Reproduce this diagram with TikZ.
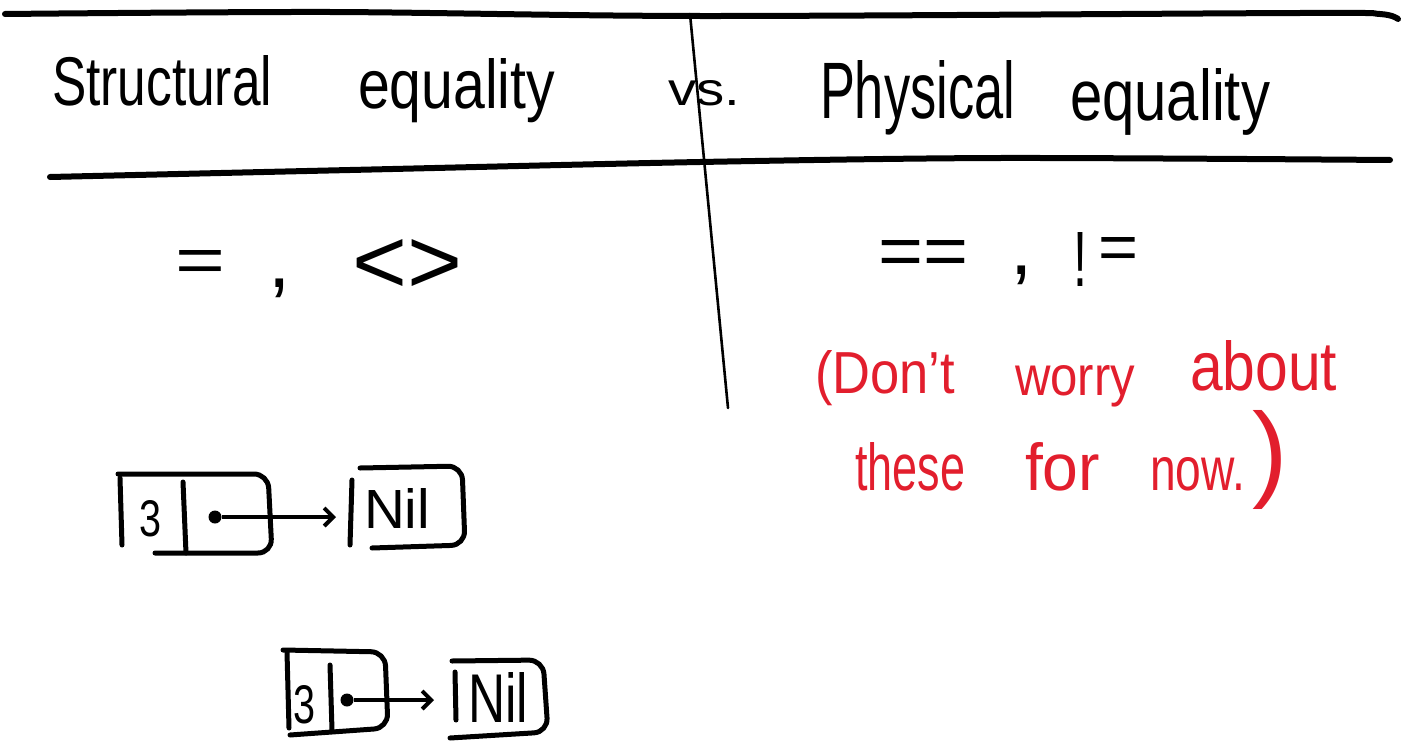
\documentclass[tikz,border=0pt]{standalone}
\usepackage{fontspec}
\setmainfont{Liberation Sans}
\usepackage{graphicx}
\usetikzlibrary{arrows.meta}
\definecolor{inkred}{RGB}{226,30,45}
\newcommand\fitbox[3]{\resizebox{#1pt}{#2pt}{#3}}
\tikzset{
  word/.style={anchor=base west, inner sep=0pt, outer sep=0pt},
  redword/.style={word, text=inkred},
  rule/.style={line width=6pt, line cap=round},
  thinrule/.style={line width=2.6pt, line cap=round},
  boxline/.style={line width=5pt, line cap=round, rounded corners=14pt},
  ptr/.style={line width=4pt, -{Straight Barb[length=9pt,width=18pt,line width=4pt]}},
  dot/.style={circle, fill, inner sep=0pt, minimum size=13pt}
}
\begin{document}
\begin{tikzpicture}[x=1pt,y=-1pt]
\useasboundingbox (0,0) rectangle (1403,744);
% header rules
\draw[rule] plot[smooth] coordinates {(5,14) (330,12) (700,16) (1300,13) (1380,14) (1398,19)};
\draw[rule] plot[smooth] coordinates {(50,177) (350,170) (700,162) (1000,158) (1390,160)};
\draw[thinrule] (690,14) -- (728,408);
% titles
\node[word] (s1) at (52,105) {\fitbox{220}{50}{Structural}};
\node[word] (s2) at (358,108) {\fitbox{197}{50}{equality}};
\node[word] (vs) at (668,105) {\fitbox{72}{25}{vs.}};
\node[word] (p1) at (820,118) {\fitbox{195}{58}{Physical}};
\node[word] (p2) at (1070,120) {\fitbox{200}{52}{equality}};
% operators
\node[word] (eq) at (175,282) {\fitbox{50}{32}{=}};
\node[inner sep=0pt] (c1) at (280,288) {\fontsize{80}{80}\selectfont ,};
\node[inner sep=0pt] (ne) at (407,266) {\fitbox{110}{54}{<>}};
\node[word] (eqeq) at (878,275) {\fitbox{90}{35}{==}};
\node[inner sep=0pt] (c2) at (1022,275) {\fontsize{80}{80}\selectfont ,};
\node[word] (bang) at (1073,286) {\fitbox{14}{54}{!}};
\node[word] (eq2) at (1098,269) {\fitbox{40}{32}{=}};
% red note
\node[redword] (r1) at (815,393) {\fitbox{140}{43}{(Don't}};
\node[redword] (r2) at (1015,395) {\fitbox{120}{30}{worry}};
\node[redword] (r3) at (1190,390) {\fitbox{147}{50}{about}};
\node[redword] (r4) at (855,490) {\fitbox{110}{48}{these}};
\node[redword] (r5) at (1025,490) {\fitbox{75}{48}{for}};
\node[redword] (r6) at (1150,490) {\fitbox{95}{33}{now.}};
\node[redword] (r7) at (1252,487) {\resizebox{!}{77pt}{)}};
% first list
\draw[boxline] (120,478) -- (122,545);
\draw[boxline] (118,474) -- (268,474) -- (272,553) -- (155,553);
\draw[boxline] (183,482) -- (186,553);
\node[word] (three1) at (139,536) {\fitbox{22}{36}{3}};
\node[dot] (d1) at (215,517) {};
\draw[boxline] (352,480) -- (350,545);
\draw[boxline] (360,468) -- (462,466) -- (465,545) -- (372,548);
\node[word] (nil1) at (364,528) {\fitbox{66}{40}{Nil}};
\draw[ptr, shorten >=28pt] (d1) -- (d1 -| nil1.west);
% second list
\draw[boxline] (287,652) -- (289,728);
\draw[boxline] (283,650) -- (385,652) -- (388,728) -- (290,735);
\draw[boxline] (330,665) -- (332,730);
\node[word] (three2) at (293,723) {\fitbox{22}{38}{3}};
\node[dot] (d2) at (347,700) {};
\draw[boxline] (455,672) -- (456,720);
\draw[boxline] (452,661) -- (543,660) -- (548,732) -- (450,738);
\node[word] (nil2) at (468,722) {\fitbox{60}{50}{Nil}};
\draw[ptr, shorten >=34pt] (d2) -- (d2 -| nil2.west);
\end{tikzpicture}
\end{document}
